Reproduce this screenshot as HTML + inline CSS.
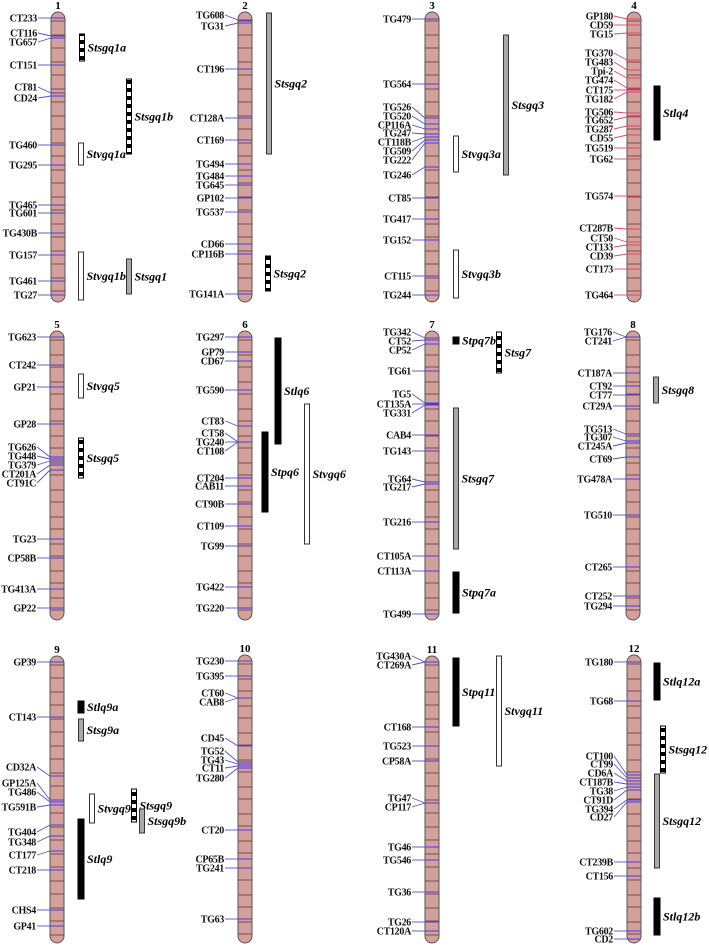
<!DOCTYPE html>
<html><head><meta charset="utf-8"><style>
html,body{margin:0;padding:0;background:#fff;}
svg{display:block;}
text{font-family:"Liberation Serif",serif;}
</style></head><body>
<svg id="map" width="709" height="947" viewBox="0 0 709 947" xmlns="http://www.w3.org/2000/svg">
<defs>
<pattern id="chk" width="6" height="8" patternUnits="userSpaceOnUse">
<rect x="0" y="0" width="6" height="4" fill="#000"/><rect x="0" y="4" width="6" height="4" fill="#fff"/>
</pattern>
</defs>
</svg>
<script>
// chromosome ids, centers, extents
const chromIds = ["1","2","3","4","5","6","7","8","9","10","11","12"];
const chromX = [58,245,432,634,57,245,432,633,57,245,432,634];
const chromTop = [12,12,12,12,331,331,331,331,656,655,656,655];
const chromBottom = [302,302,302,302,620,620,620,620,943,943,943,943];
// markers: [name, labelY, positionY]
const markers = [
 [["CT233",18,18],["CT116",33,36],["TG657",42,38],["CT151",65,65],["CT81",87,93],["CD24",98,96],["TG460",145,145],["TG295",165,165],["TG465",205,205],["TG601",213,213],["TG430B",233,233],["TG157",255,255],["TG461",281,281],["TG27",295,295]],
 [["TG608",15,20],["TG31",26,23],["CT196",69,69],["CT128A",118,118],["CT169",140,140],["TG494",164,164],["TG484",176,176],["TG645",185,185],["GP102",198,198],["TG537",212,212],["CD66",244,244],["CP116B",254,254],["TG141A",294,294]],
 [["TG479",19,19],["TG564",84,84],["TG526",107,118],["TG520",116,124],["CP116A",125,129],["TG247",133,134],["CT118B",142,137],["TG509",151,140],["TG222",160,143],["TG246",175,167],["CT85",198,198],["TG417",219,219],["TG152",240,240],["CT115",276,276],["TG244",295,295]],
 [["GP180",16,19],["CD59",25,25],["TG15",34,33],["TG370",53,60],["TG483",62,70],["Tpi-2",71,78],["TG474",80,88],["CT175",90,90],["TG182",99,92],["TG506",112,113],["TG652",120,117],["TG287",129,126],["CD55",138,135],["TG519",148,148],["TG62",159,159],["TG574",196,196],["CT287B",228,229],["CT50",238,242],["CT133",247,245],["CD39",256,254],["CT173",269,269],["TG464",295,295]],
 [["TG623",337,337],["CT242",365,365],["GP21",387,387],["GP28",424,424],["TG626",447,457],["TG448",456,459],["TG379",465,461],["CT201A",474,465],["CT91C",483,470],["TG23",539,539],["CP58B",558,558],["TG413A",589,589],["GP22",608,608]],
 [["TG297",337,337],["GP79",352,352],["CD67",361,361],["TG590",390,390],["CT83",421,426],["CT58",433,442],["TG240",442,442],["CT108",451,442],["CT204",478,478],["CAB11",486,486],["CT90B",504,504],["CT109",526,526],["TG99",546,546],["TG422",587,587],["TG220",608,608]],
 [["TG342",332,338],["CT52",341,340],["CP52",350,344],["TG61",371,371],["TG5",394,403],["CT135A",404,404],["TG331",413,405],["CAB4",435,435],["TG143",451,451],["TG64",479,482],["TG217",487,484],["TG216",522,522],["CT105A",556,556],["CT113A",571,571],["TG499",614,614]],
 [["TG176",332,337],["CT241",341,337],["CT187A",373,373],["CT92",386,386],["CT77",395,395],["CT29A",406,406],["TG513",429,434],["TG307",437,441],["CT245A",446,443],["CT69",459,457],["TG478A",479,479],["TG510",515,515],["CT265",567,567],["CT252",596,596],["TG294",606,606]],
 [["GP39",662,662],["CT143",717,717],["CD32A",767,776],["GP125A",783,800],["TG486",792,802],["TG591B",807,805],["TG404",832,825],["TG348",842,836],["CT177",855,851],["CT218",870,870],["CHS4",910,910],["GP41",926,926]],
 [["TG230",661,661],["TG395",676,676],["CT60",693,698],["CAB8",702,698],["CD45",738,746],["TG52",751,762],["TG43",760,764],["CT11",768,766],["TG280",778,768],["CT20",830,830],["CP65B",859,859],["TG241",868,868],["TG63",919,919]],
 [["TG430A",656,662],["CT269A",665,662],["CT168",727,727],["TG523",746,746],["CP58A",761,761],["TG47",798,803],["CP117",807,803],["TG46",847,847],["TG546",860,860],["TG36",892,892],["TG26",922,922],["CT120A",931,931]],
 [["TG180",662,662],["TG68",701,701],["CT100",756,775],["CT99",764,778],["CD6A",773,781],["CT187B",782,784],["TG38",791,787],["CT91D",800,790],["TG394",809,800],["CD27",817,802],["CT239B",862,862],["CT156",876,876],["TG602",931,931],["CD2",939,939]]
];
// QTLs: [name, chromIndex, x, y1, y2, style]
const qtls = [
 ["Stsgq1a",0,82,34,61,"chk"],["Stsgq1b",0,129,79,154,"chk"],["Stvgq1a",0,81,143,165,"white"],["Stvgq1b",0,81,252,300,"white"],["Stsgq1",0,129,259,294,"gray"],
 ["Stsgq2",1,269,13,154,"gray"],["Stsgq2",1,268,256,291,"chk"],
 ["Stsgq3",2,506,35,175,"gray"],["Stvgq3a",2,456,136,172,"white"],["Stvgq3b",2,456,250,298,"white"],
 ["Stlq4",3,657,86,140,"black"],
 ["Stvgq5",4,81,374,398,"white"],["Stsgq5",4,81,438,478,"chk"],
 ["Stlq6",5,278,338,444,"black"],["Stpq6",5,265,432,512,"black"],["Stvgq6",5,307,404,544,"white"],
 ["Stpq7b",6,456,337,344,"black"],["Stsg7",6,499,332,373,"chk"],["Stsgq7",6,456,408,549,"gray"],["Stpq7a",6,456,572,613,"black"],
 ["Stsgq8",7,656,377,403,"gray"],
 ["Stlq9a",8,81,701,713,"black"],["Stsg9a",8,81,719,741,"gray"],["Stvgq9",8,92,794,823,"white"],["Stsgq9",8,134,789,822,"chk"],["Stsgq9b",8,142,809,833,"gray"],["Stlq9",8,81,819,899,"black"],
 ["Stpq11",10,456,658,726,"black"],["Stvgq11",10,499,656,766,"white"],
 ["Stlq12a",11,657,663,700,"black"],["Stsgq12",11,663,726,773,"chk"],["Stsgq12",11,657,774,868,"gray"],["Stlq12b",11,657,898,935,"black"]
];

const NS="http://www.w3.org/2000/svg";
const svg=document.getElementById('map');
function mk(tag,attrs,parent){const e=document.createElementNS(NS,tag);for(const k in attrs)e.setAttribute(k,attrs[k]);(parent||svg).appendChild(e);return e;}
const W=7;
chromIds.forEach((id,i)=>{
 const g=mk('g',{});
 
 
 const cx=chromX[i],t=chromTop[i],b=chromBottom[i];
 const body=mk('rect',{x:cx-W,y:t,width:2*W,height:b-t,rx:W,ry:W,fill:'#d3a19c',stroke:'#555','stroke-width':1},g);
 
 
 for(let y=t+9;y<b-5;y+=11+((y*7)%9)){
  mk('line',{x1:cx-W,x2:cx+W,y1:y,y2:y,stroke:'#7a4a4a','stroke-width':1},g);
 }
 const mcol = id==="4" ? '#d84870' : '#4a3ae0';
 const num=mk('text',{x:cx,y:t-3,'text-anchor':'middle','font-size':11,'font-weight':'bold',fill:'#000'},g);
 num.textContent=id;
 
 
 markers[i].forEach(m=>{
  const [name,ly,py]=m;
  mk('line',{x1:cx-W,x2:cx+W,y1:py,y2:py,stroke:mcol,'stroke-width':1},g);
  mk('line',{x1:cx-20,y1:ly,x2:cx-W,y2:py,stroke:id==="4"?'#d84870':'#5a50c8','stroke-width':0.9},g);
  const tx=mk('text',{x:cx-21,y:ly+3.5,'text-anchor':'end','font-size':10,'font-weight':'bold',fill:'#111','letter-spacing':'-0.3'},g);
  tx.textContent=name;
  
  
 });
});
qtls.forEach(q=>{
 const [name,ci,x,y1,y2,st]=q;
 const g=mk('g',{});
 
 
 let fill='#fff',stroke='#333',w=5;
 if(st==='black'){fill='#000';stroke='#000';w=6;}
 if(st==='gray'){fill='#aaa';stroke='#333';}
 if(st==='chk'){fill='url(#chk)';stroke='#000';}
 const r=mk('rect',{x:x-w/2,y:y1,width:w,height:y2-y1,fill:fill,stroke:stroke,'stroke-width':1},g);
 
 
 const tx=mk('text',{x:x+w/2+3,y:(y1+y2)/2+4,'font-size':12,'font-weight':'bold','font-style':'italic',fill:'#000'},g);
 tx.textContent=name;
 
 
});
</script>
</body></html>
